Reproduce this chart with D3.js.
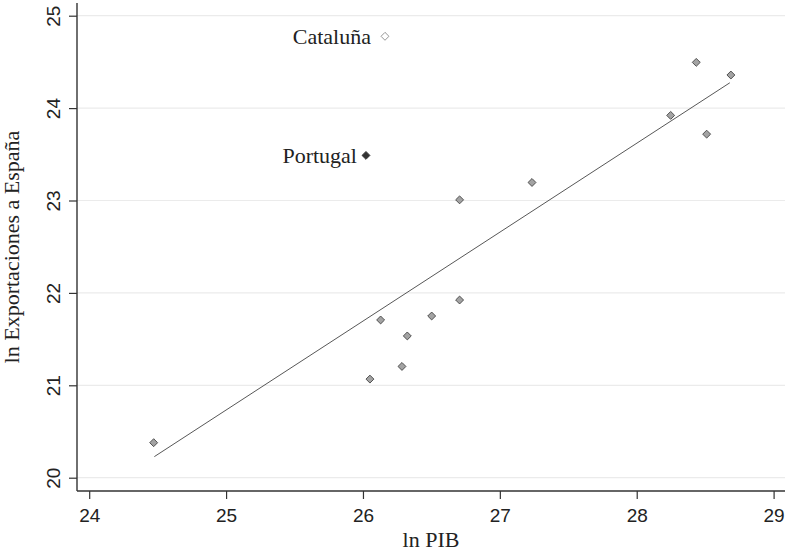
<!DOCTYPE html>
<html>
<head>
<meta charset="utf-8">
<script src="https://cdn.jsdelivr.net/npm/d3@7"></script>
<style>
  body { margin: 0; background: #fff; }
  svg { display: block; }
</style>
</head>
<body>
<script>
// Data
const lnPIB = [24.471, 26.051, 26.285, 26.324, 26.129, 26.502, 26.706, 26.706, 27.235, 28.248, 28.511, 28.435, 28.688];
const lnExport = [20.379, 21.067, 21.204, 21.534, 21.707, 21.750, 21.923, 23.007, 23.195, 23.921, 23.718, 24.495, 24.358];
const labelNames = ['Cataluña', 'Portugal'];
const labelPIB = [26.161, 26.022];
const labelExport = [24.777, 23.488];
const fitX = [24.476, 28.680];
const fitY = [20.228, 24.274];
const xTicks = [24, 25, 26, 27, 28, 29];
const yTicks = [20, 21, 22, 23, 24, 25];

document.addEventListener('DOMContentLoaded', function() {
    const width = 785, height = 552;
    const axisX = 77, axisY = 491;

    const svg = d3.select('body')
        .append('svg')
        .attr('width', width)
        .attr('height', height);

    const x = d3.scaleLinear().domain([24, 29]).range([89.2, 773.6]);
    const y = d3.scaleLinear().domain([20, 25]).range([477.7, 15.7]);

    // horizontal grid lines
    svg.append('g')
        .selectAll('line')
        .data(yTicks)
        .join('line')
        .attr('x1', axisX).attr('x2', width)
        .attr('y1', d => y(d)).attr('y2', d => y(d))
        .attr('stroke', '#ebebeb')
        .attr('stroke-width', 1.2);

    // y axis
    const yAxis = svg.append('g')
        .attr('transform', `translate(${axisX},0)`)
        .call(d3.axisLeft(y).tickValues(yTicks).tickSize(8).tickFormat(d3.format('d')));
    yAxis.select('.domain').remove();
    yAxis.selectAll('.tick line').attr('stroke', '#333').attr('stroke-width', 1.2);
    yAxis.selectAll('.tick text')
        .attr('transform', 'rotate(-90)')
        .attr('x', 0).attr('y', -17).attr('dy', 0)
        .attr('text-anchor', 'middle')
        .attr('fill', '#222')
        .style('font-family', '"Liberation Sans", Arial, sans-serif')
        .style('font-size', '19px');

    // x axis
    const xAxis = svg.append('g')
        .attr('transform', `translate(0,${axisY})`)
        .call(d3.axisBottom(x).tickValues(xTicks).tickSize(8).tickFormat(d3.format('d')));
    xAxis.select('.domain').remove();
    xAxis.selectAll('.tick line').attr('stroke', '#333').attr('stroke-width', 1.2);
    xAxis.selectAll('.tick text')
        .attr('y', 31).attr('dy', 0)
        .attr('fill', '#222')
        .style('font-family', '"Liberation Sans", Arial, sans-serif')
        .style('font-size', '19px');

    // axis lines
    svg.append('line')
        .attr('x1', axisX).attr('x2', axisX)
        .attr('y1', 3).attr('y2', axisY)
        .attr('stroke', '#333').attr('stroke-width', 1.4);
    svg.append('line')
        .attr('x1', axisX).attr('x2', width)
        .attr('y1', axisY).attr('y2', axisY)
        .attr('stroke', '#333').attr('stroke-width', 1.4);

    // fitted line
    const line = d3.line()
        .x((d, i) => x(d))
        .y((d, i) => y(fitY[i]));
    svg.append('path')
        .datum(fitX)
        .attr('fill', 'none')
        .attr('stroke', '#444')
        .attr('stroke-width', 0.9)
        .attr('d', line);

    const diamond = d3.symbol().type(d3.symbolDiamond2).size(40);

    // scatter points
    svg.append('g')
        .selectAll('path')
        .data(lnPIB)
        .join('path')
        .attr('d', diamond)
        .attr('transform', (d, i) => `translate(${x(d)},${y(lnExport[i])})`)
        .attr('fill', '#a3a3a3')
        .attr('stroke', '#444')
        .attr('stroke-width', 0.9);

    // labelled points
    const labFill = ['#ffffff', '#333333'];
    const labStroke = ['#8a8a8a', '#333333'];
    const labGap = [14, 9];
    const lab = svg.append('g')
        .selectAll('g')
        .data(labelNames)
        .join('g')
        .attr('transform', (d, i) => `translate(${x(labelPIB[i])},${y(labelExport[i])})`);
    lab.append('path')
        .attr('d', diamond)
        .attr('fill', (d, i) => labFill[i])
        .attr('stroke', (d, i) => labStroke[i])
        .attr('stroke-width', 0.9);
    lab.append('text')
        .attr('x', (d, i) => -labGap[i])
        .attr('y', 8)
        .attr('text-anchor', 'end')
        .attr('fill', '#222')
        .style('font-family', '"Liberation Serif", "Times New Roman", serif')
        .style('font-size', '22px')
        .text(d => d);

    // axis titles
    svg.append('text')
        .attr('x', 431).attr('y', 547)
        .attr('text-anchor', 'middle')
        .attr('fill', '#222')
        .style('font-family', '"Liberation Serif", "Times New Roman", serif')
        .style('font-size', '22px')
        .text('ln PIB');
    svg.append('text')
        .attr('transform', 'translate(19,247) rotate(-90)')
        .attr('text-anchor', 'middle')
        .attr('fill', '#222')
        .style('font-family', '"Liberation Serif", "Times New Roman", serif')
        .style('font-size', '22px')
        .text('ln Exportaciones a España');
});
</script>
</body>
</html>
